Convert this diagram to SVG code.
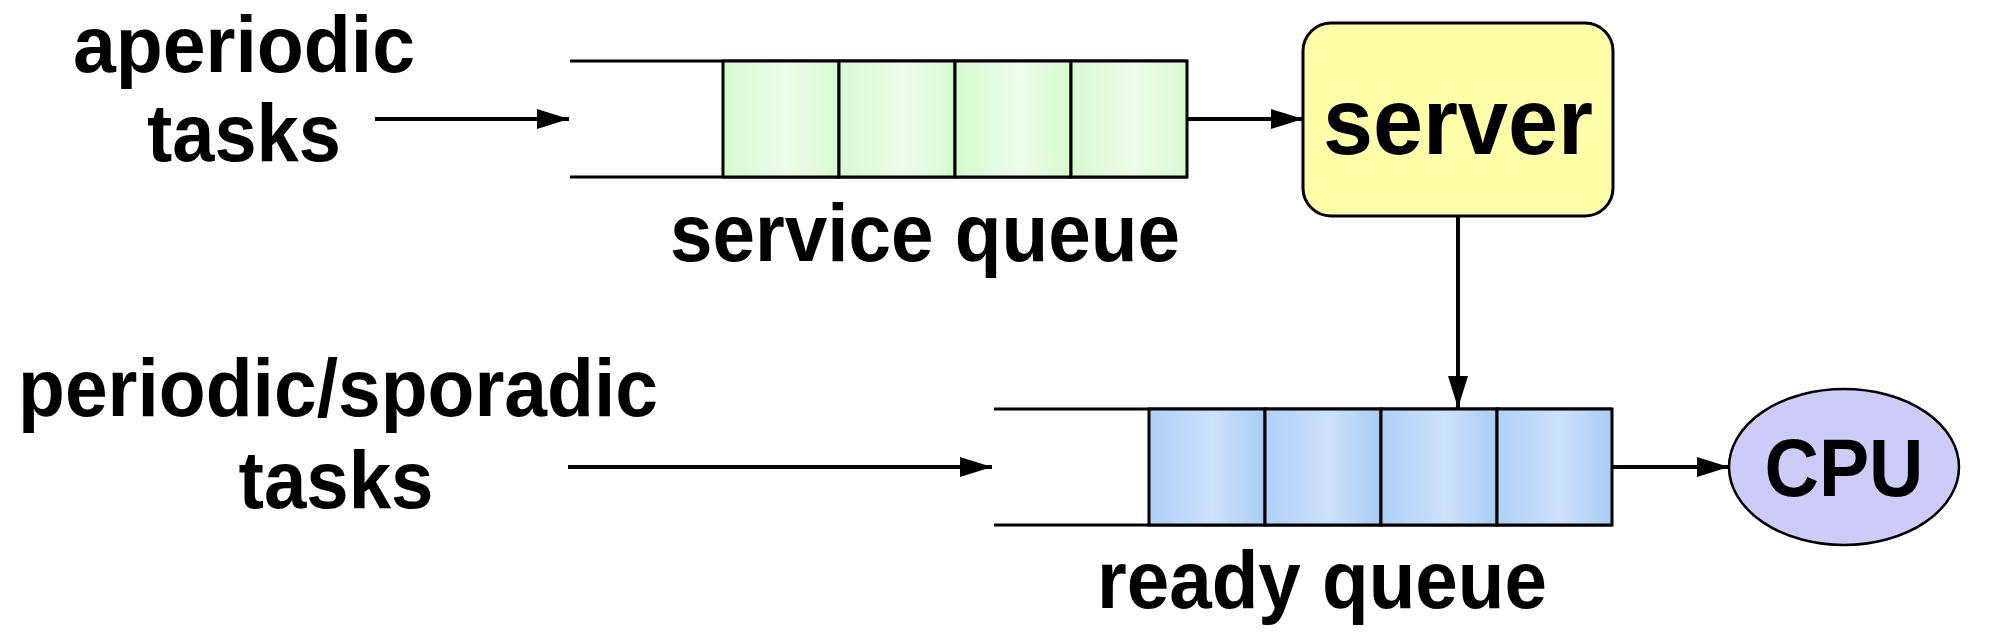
<svg xmlns="http://www.w3.org/2000/svg" width="2000" height="644" viewBox="0 0 2000 644">
<defs>
<style>
.lbl{font-family:"Liberation Sans",Arial,sans-serif;font-weight:bold;fill:#000;text-anchor:middle}
.qline{stroke:#000;stroke-width:3;fill:none}
.cell{stroke:#000;stroke-width:3}
.conn{stroke:#000;stroke-width:4;fill:none}
</style>
<linearGradient id="gGreen" x1="0" y1="0" x2="1" y2="0">
<stop offset="0" stop-color="#d6f9d0"/>
<stop offset="0.55" stop-color="#edfeea"/>
<stop offset="1" stop-color="#d8fad2"/>
</linearGradient>
<linearGradient id="gBlue" x1="0" y1="0" x2="1" y2="0">
<stop offset="0" stop-color="#aed0f8"/>
<stop offset="0.55" stop-color="#cde1fb"/>
<stop offset="1" stop-color="#a8ccf6"/>
</linearGradient>
<marker id="arr" markerUnits="userSpaceOnUse" markerWidth="33" markerHeight="21" refX="32" refY="10.5" orient="auto">
<path d="M0,0.5 L32,10.5 L0,20.5 z" fill="#000"/>
</marker>
</defs>
<rect width="2000" height="644" fill="#fff"/>

<g id="label-aperiodic">
<text class="lbl" x="244" y="72" font-size="80" textLength="342" lengthAdjust="spacingAndGlyphs">aperiodic</text>
<text class="lbl" x="244" y="161" font-size="82" textLength="194" lengthAdjust="spacingAndGlyphs">tasks</text>
</g>

<g id="label-periodic">
<text class="lbl" x="338" y="416" font-size="82" textLength="640" lengthAdjust="spacingAndGlyphs">periodic/sporadic</text>
<text class="lbl" x="336" y="508" font-size="82" textLength="195" lengthAdjust="spacingAndGlyphs">tasks</text>
</g>

<g id="service-queue">
<line class="qline" x1="570" y1="61" x2="1187" y2="61"/>
<line class="qline" x1="570" y1="177" x2="1187" y2="177"/>
<rect class="cell" x="723" y="61" width="116" height="116" fill="url(#gGreen)"/>
<rect class="cell" x="839" y="61" width="116" height="116" fill="url(#gGreen)"/>
<rect class="cell" x="955" y="61" width="116" height="116" fill="url(#gGreen)"/>
<rect class="cell" x="1071" y="61" width="116" height="116" fill="url(#gGreen)"/>
<text class="lbl" x="925" y="261" font-size="82" textLength="510" lengthAdjust="spacingAndGlyphs">service queue</text>
</g>

<g id="server">
<rect x="1303" y="23" width="310" height="193" rx="28" ry="28" fill="#ffffaa" stroke="#000" stroke-width="3"/>
<text class="lbl" x="1458" y="154" font-size="95" textLength="270" lengthAdjust="spacingAndGlyphs">server</text>
</g>

<g id="ready-queue">
<line class="qline" x1="994" y1="409" x2="1612" y2="409"/>
<line class="qline" x1="994" y1="525" x2="1612" y2="525"/>
<rect class="cell" x="1149" y="409" width="116" height="116" fill="url(#gBlue)"/>
<rect class="cell" x="1265" y="409" width="116" height="116" fill="url(#gBlue)"/>
<rect class="cell" x="1381" y="409" width="116" height="116" fill="url(#gBlue)"/>
<rect class="cell" x="1497" y="409" width="115" height="116" fill="url(#gBlue)"/>
<text class="lbl" x="1322" y="608" font-size="82" textLength="450" lengthAdjust="spacingAndGlyphs">ready queue</text>
</g>

<g id="cpu">
<ellipse cx="1844" cy="467" rx="115" ry="78" fill="#ccccf8" stroke="#000" stroke-width="2.5"/>
<text class="lbl" x="1844" y="496" font-size="82" textLength="159" lengthAdjust="spacingAndGlyphs">CPU</text>
</g>

<g id="connectors">
<line class="conn" x1="375" y1="119" x2="569" y2="119" marker-end="url(#arr)"/>
<line class="conn" x1="1187" y1="119" x2="1303" y2="119" marker-end="url(#arr)"/>
<line class="conn" x1="1458" y1="216" x2="1458" y2="408" marker-end="url(#arr)"/>
<line class="conn" x1="568" y1="467" x2="992" y2="467" marker-end="url(#arr)"/>
<line class="conn" x1="1612" y1="467" x2="1729" y2="467" marker-end="url(#arr)"/>
</g>
</svg>
